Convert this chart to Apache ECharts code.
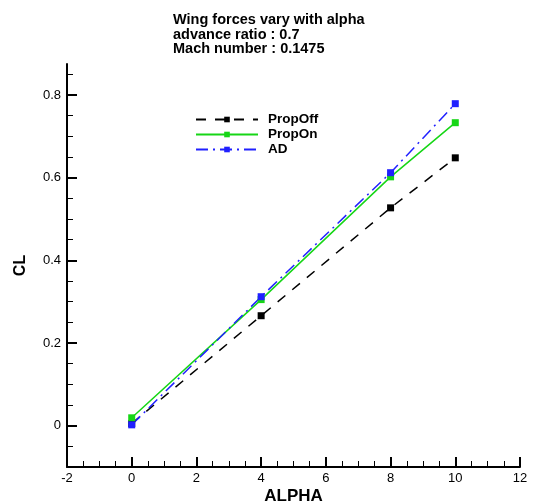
<!DOCTYPE html>
<html><head><meta charset="utf-8">
<script src="https://cdn.jsdelivr.net/npm/echarts@6/dist/echarts.min.js"></script>
<style>html,body{margin:0;padding:0;background:#fff}#c{width:534px;height:501px}</style>
</head><body><div id="c"></div>
<script>
const alpha = [0, 4, 8, 10];
const propOff = [0.005, 0.266, 0.527, 0.648];
const propOn = [0.019, 0.305, 0.602, 0.733];
const ad = [0.002, 0.312, 0.612, 0.779];
const yMajor = [0, 0.2, 0.4, 0.6, 0.8];
const yMinor = [-0.05, 0.05, 0.1, 0.15, 0.25, 0.3, 0.35, 0.45, 0.5, 0.55, 0.65, 0.7, 0.75, 0.85];
const titleLines = ['Wing forces vary with alpha', 'advance ratio : 0.7', 'Mach number : 0.1475'];

const FONT = 'Liberation Sans, Arial, sans-serif';
const chart = echarts.init(document.getElementById('c'));
const grid = {left: 67, right: 14, top: 64, bottom: 34, outerBoundsMode: 'none', containLabel: false};
function pairs(ys){ return alpha.map((a,i)=>[a, ys[i]]); }
chart.setOption({
  animation: false,
  backgroundColor: '#fff',
  title: {
    text: titleLines.join('\n'), left: 173, top: 13, padding: 0,
    textStyle: {fontFamily: FONT, fontSize: 14.5, fontWeight: 'bold', color: '#000', lineHeight: 14.5}
  },
  legend: {
    orient: 'vertical', left: 195, top: 112, padding: 0, itemWidth: 62, itemHeight: 7, itemGap: 0,
    textStyle: {fontFamily: FONT, fontSize: 13.5, fontWeight: 'bold', color: '#000', lineHeight: 15, padding: [0, 0, 0, 5]},
    data: ['PropOff', 'PropOn', 'AD']
  },
  grid: grid,
  xAxis: {
    type: 'value', min: -2, max: 12, interval: 2,
    name: 'ALPHA', nameLocation: 'middle', nameGap: 21, nameMoveOverlap: false,
    nameTextStyle: {fontFamily: FONT, fontSize: 17, fontWeight: 'bold', color: '#000'},
    axisLine: {show: true, onZero: false, lineStyle: {color: '#000', width: 2}},
    axisTick: {show: true, inside: true, length: 10, lineStyle: {color: '#000', width: 2}},
    minorTick: {show: true, splitNumber: 4, length: 6, lineStyle: {color: '#000', width: 1}},
    axisLabel: {fontFamily: FONT, fontSize: 13, color: '#000', margin: 5},
    splitLine: {show: false}, minorSplitLine: {show: false}
  },
  yAxis: [{
    type: 'value', min: -0.1, max: 0.875,
    name: 'CL', nameLocation: 'middle', nameGap: 38, nameMoveOverlap: false,
    nameTextStyle: {fontFamily: FONT, fontSize: 16, fontWeight: 'bold', color: '#000'},
    axisLine: {show: true, onZero: false, lineStyle: {color: '#000', width: 2}},
    axisTick: {show: true, inside: true, length: 10, customValues: yMajor, lineStyle: {color: '#000', width: 2}},
    axisLabel: {fontFamily: FONT, fontSize: 13, color: '#000', margin: 6, customValues: yMajor,
      formatter: v => String(Math.round(v*10)/10)},
    splitLine: {show: false}
  }, {
    type: 'value', min: -0.1, max: 0.875, position: 'left', offset: 0,
    axisLine: {show: false, onZero: false},
    axisTick: {show: true, inside: true, length: 6, customValues: yMinor, lineStyle: {color: '#000', width: 1}},
    axisLabel: {show: false},
    splitLine: {show: false}
  }],
  series: [
    {name: 'PropOff', type: 'line', data: pairs(propOff), symbol: 'rect', symbolSize: 7,
      itemStyle: {color: '#000'}, lineStyle: {color: '#000', width: 1.5, type: [10, 9]}},
    {name: 'PropOn', type: 'line', data: pairs(propOn), symbol: 'rect', symbolSize: 7,
      itemStyle: {color: '#16d616'}, lineStyle: {color: '#16d616', width: 1.5}},
    {name: 'AD', type: 'line', data: pairs(ad), symbol: 'rect', symbolSize: 7,
      itemStyle: {color: '#2020ff'}, lineStyle: {color: '#2020ff', width: 1.5, type: [12, 5, 2, 5]}}
  ]
});
</script></body></html>
